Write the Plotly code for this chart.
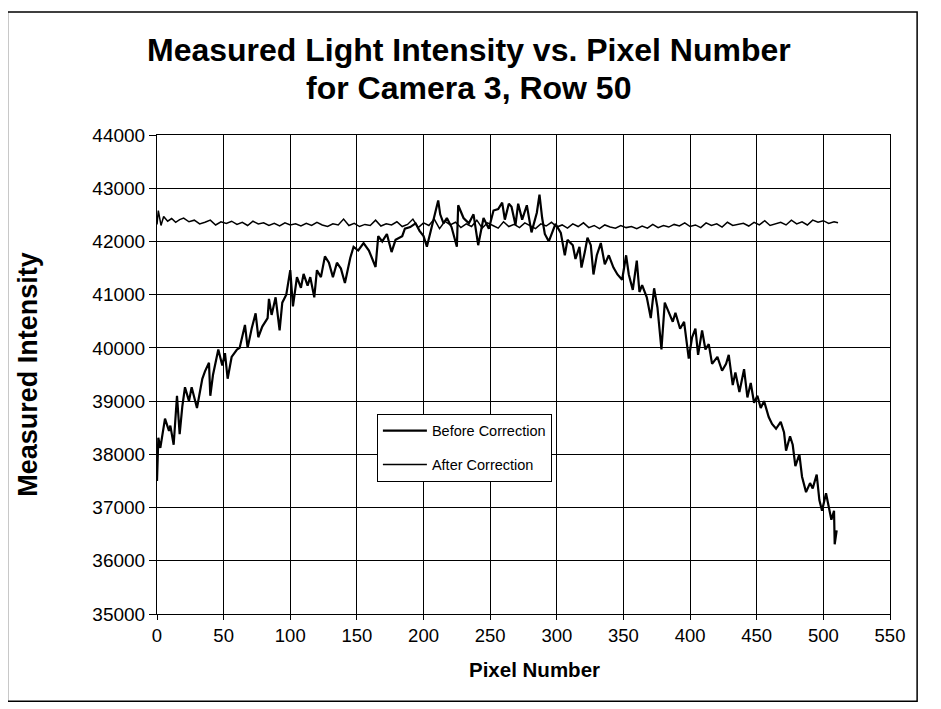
import plotly.graph_objects as go

# pixel index / measured intensity
before_x = [0, 1, 2.5, 6, 9, 10, 12.5, 15, 17, 19, 21, 24, 26, 30, 34, 36, 39, 40, 42, 46,
            49, 51, 53, 56, 60, 62, 66, 68, 71, 74, 76, 79, 83, 84, 86, 89, 92, 94, 97, 100,
            102, 105, 108, 110, 113, 115, 118, 120, 123, 126, 129, 132, 135, 138, 141, 145, 147.5, 151, 155, 159,
            164, 166, 169, 172.5, 176, 179, 184, 186, 190, 194, 197, 200, 202.5, 206, 211, 212.5, 215, 217.5, 221, 225,
            226, 230, 234, 237.5, 241, 245, 249, 252.5, 256, 259, 261, 264, 266, 269, 271, 274, 277.5, 281, 285, 287,
            289, 291, 294, 299, 303, 306, 308, 312, 314, 317, 318.5, 321, 323, 325.5, 327.5, 330, 333, 336, 339, 342.5,
            345.5, 349, 352, 354, 357, 360, 362, 364, 367.5, 370.5, 373, 375.5, 378.5, 381, 383.5, 387, 389, 392.5, 395.5, 399,
            401.5, 404, 406, 409, 411.5, 414, 416.5, 420.5, 424, 427, 429, 432, 434, 437, 440.5, 443, 445.5, 448, 450.5, 453,
            455.5, 459, 461.5, 464.5, 468, 470.5, 472, 475, 477, 479, 482, 484, 487, 490, 492, 495, 497, 499, 502, 504,
            506, 508, 508.5, 510]
before_y = [37500, 38310, 38120, 38670, 38440, 38540, 38180, 39100, 38380, 38900, 39260, 39000, 39260, 38870, 39420, 39560, 39720, 39100, 39490, 39970,
            39670, 39900, 39420, 39830, 39970, 40000, 40430, 40000, 40360, 40650, 40200, 40400, 40560, 40920, 40620, 40950, 40330, 40850, 41000, 41460,
            40780, 41330, 41130, 41390, 41170, 41330, 40950, 41460, 41330, 41720, 41600, 41330, 41600, 41490, 41220, 41690, 41900, 41830, 41970, 41830,
            41520, 42100, 42000, 42140, 41800, 42030, 42100, 42240, 42270, 42340, 42200, 42100, 41900, 42240, 42770, 42510, 42340, 42440, 42270, 41900,
            42680, 42440, 42340, 42510, 41930, 42440, 42240, 42580, 42610, 42730, 42410, 42710, 42650, 42310, 42710, 42410, 42680, 42170, 42540, 42880,
            42440, 42140, 42000, 42330, 42160, 41740, 42030, 41930, 41670, 41900, 41510, 41800, 42070, 41930, 41380, 41740, 41970, 41570, 41740, 41510,
            41380, 41280, 41740, 41380, 41090, 41640, 41050, 41180, 40950, 40560, 41120, 40760, 39970, 40850, 40690, 40490, 40660, 40360, 40490, 39800,
            40200, 40360, 39870, 40330, 39970, 40070, 39700, 39830, 39570, 39700, 39870, 39300, 39540, 39170, 39600, 39070, 39340, 38970, 39100, 38870,
            39000, 38700, 38570, 38480, 38610, 38410, 38070, 38340, 38180, 37780, 38000, 37580, 37290, 37460, 37360, 37620, 37140, 36940, 37270, 37000,
            36770, 36940, 36310, 36570]

after_x = [0, 1, 3, 5, 8, 11, 14, 17, 20, 24, 28, 32, 36, 40, 44, 48, 52, 56, 60, 64,
           68, 72, 76, 80, 84, 88, 92, 96, 100, 104, 108, 112, 116, 120, 124, 128, 132, 136, 140, 144,
           148, 152, 156, 160, 164, 168, 172, 176, 180, 184, 188, 192, 196, 200, 204, 208, 212, 216, 220, 224,
           228, 232, 236, 240, 244, 248, 252, 256, 260, 264, 268, 272, 276, 280, 284, 288, 292, 296, 300, 304,
           308, 312, 316, 320, 324, 328, 332, 336, 340, 344, 348, 352, 356, 360, 364, 368, 372, 376, 380, 384,
           388, 392, 396, 400, 404, 408, 412, 416, 420, 424, 428, 432, 436, 440, 444, 448, 452, 456, 460, 464,
           468, 472, 476, 480, 484, 488, 492, 496, 500, 504, 508, 511]
after_y = [42320, 42580, 42300, 42470, 42380, 42430, 42360, 42410, 42440, 42370, 42400, 42330, 42360, 42400, 42310, 42370, 42340, 42380, 42320, 42360,
           42300, 42380, 42330, 42350, 42300, 42340, 42290, 42350, 42310, 42330, 42290, 42340, 42300, 42360, 42310, 42280, 42330, 42310, 42420, 42300,
           42340, 42280, 42320, 42300, 42400, 42290, 42330, 42310, 42370, 42280, 42320, 42420, 42260, 42350, 42300, 42420, 42240, 42380, 42310, 42360,
           42260, 42330, 42280, 42400, 42250, 42350, 42300, 42250, 42370, 42280, 42320, 42260, 42350, 42300, 42240, 42330, 42290, 42360, 42270, 42310,
           42250, 42330, 42280, 42350, 42260, 42300, 42240, 42310, 42270, 42250, 42300, 42260, 42280, 42240, 42290, 42250, 42320, 42260, 42300, 42270,
           42320, 42290, 42350, 42280, 42310, 42260, 42350, 42300, 42330, 42270, 42360, 42300, 42320, 42340, 42290, 42360, 42310, 42390, 42300, 42330,
           42360, 42310, 42400, 42330, 42370, 42310, 42400, 42360, 42390, 42340, 42370, 42350]

x_ticks = [0, 50, 100, 150, 200, 250, 300, 350, 400, 450, 500, 550]
y_ticks = [35000, 36000, 37000, 38000, 39000, 40000, 41000, 42000, 43000, 44000]

font_name = "Liberation Sans, Arial, sans-serif"

fig = go.Figure()
fig.add_trace(go.Scatter(x=before_x, y=before_y, mode="lines", name="Before Correction",
                         legendgroup="before", line=dict(color="black", width=2.2)))
fig.add_trace(go.Scatter(x=after_x, y=after_y, mode="lines", name="After Correction",
                         legendgroup="after", line=dict(color="black", width=1.5)))

fig.update_layout(
    width=941, height=709,
    margin=dict(l=149, r=59, t=127, b=103),
    paper_bgcolor="white", plot_bgcolor="white",
    font=dict(family=font_name, color="black", size=18.5),
    showlegend=True,
    legend=dict(x=0.300, y=0.418, xanchor="left", yanchor="top",
                bgcolor="white", bordercolor="black", borderwidth=1,
                font=dict(size=14.5), tracegroupgap=12, itemwidth=44),
)

fig.update_xaxes(
    range=[0, 550], tickvals=x_ticks, showgrid=True, gridcolor="black", gridwidth=1,
    showline=True, linecolor="black", linewidth=1, mirror=True,
    ticks="outside", ticklen=5, tickcolor="black", zeroline=False,
)
fig.update_yaxes(
    range=[35000, 44000], tickvals=y_ticks, tickformat="d", showgrid=True, gridcolor="black", gridwidth=1,
    showline=True, linecolor="black", linewidth=1, mirror=True,
    ticks="outside", ticklen=7, tickcolor="black", zeroline=False,
    tickfont=dict(size=19),
    title=dict(text="<b>Measured Intensity</b>", font=dict(size=27), standoff=46),
)

# two-line bold title
fig.add_annotation(text="<b>Measured Light Intensity vs. Pixel Number</b>", xref="paper", yref="paper",
                   x=0.425, y=1.178, yanchor="middle", showarrow=False, font=dict(size=32))
fig.add_annotation(text="<b>for Camera 3, Row 50</b>", xref="paper", yref="paper",
                   x=0.425, y=1.098, yanchor="middle", showarrow=False, font=dict(size=32))
# x axis title, sits a little right of the plot centre in the original
fig.add_annotation(text="<b>Pixel Number</b>", xref="paper", yref="paper",
                   x=0.515, y=-0.115, yanchor="middle", showarrow=False, font=dict(size=20.5))

# outer chart frame
fig.add_shape(type="rect", xref="paper", yref="paper", x0=-0.204, x1=1.037, y0=-0.182, y1=1.257,
              line=dict(color="black", width=1.5), layer="below")

fig.write_html("out.html")
